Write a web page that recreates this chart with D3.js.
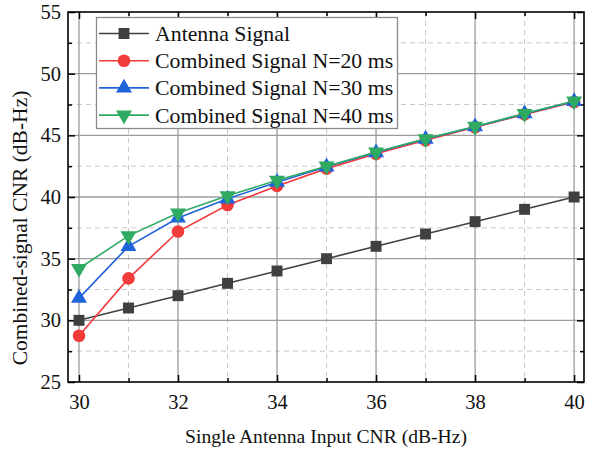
<!DOCTYPE html>
<html><head><meta charset="utf-8">
<script src="https://cdn.jsdelivr.net/npm/d3@7"></script>
<style>body{margin:0;background:#fff}svg{display:block}text{font-family:"Liberation Serif","Times New Roman",serif;fill:#111}</style>
</head><body><svg id="c" width="596" height="450"></svg>
<script>
const xVals = [30,31,32,33,34,35,36,37,38,39,40];
const antenna = [30,31,32,33,34,35,36,37,38,39,40];
const n20 = [28.75,33.4,37.2,39.35,40.9,42.3,43.5,44.6,45.65,46.7,47.7];
const n30 = [31.8,36.0,38.3,39.85,41.2,42.45,43.6,44.7,45.7,46.75,47.75];
const n40 = [34.2,36.85,38.7,40.1,41.35,42.5,43.65,44.72,45.72,46.77,47.78];
const seriesNames = ["Antenna Signal","Combined Signal N=20 ms","Combined Signal N=30 ms","Combined Signal N=40 ms"];
const xTicks = [30,32,34,36,38,40];
const yTicks = [25,30,35,40,45,50,55];

const series = [
 {name:seriesNames[0], vals:antenna, color:"#404040", sym:"square"},
 {name:seriesNames[1], vals:n20, color:"#f23b3b", sym:"circle"},
 {name:seriesNames[2], vals:n30, color:"#1f63d8", sym:"up"},
 {name:seriesNames[3], vals:n40, color:"#2eaa62", sym:"down"}
];

const svg = d3.select("#c");
const L=68,R=584,T=12,B=382;
const x = d3.scaleLinear().domain([29.778,40.2]).range([L,R]);
const y = d3.scaleLinear().domain([25,55]).range([B,T]);

const g = svg.append("g");
const xMinor = d3.range(31,40,2);
const yMinor = d3.range(27.5,55,5);
g.selectAll(".vxm").data(xMinor).join("line").attr("x1",d=>x(d)).attr("x2",d=>x(d)).attr("y1",T).attr("y2",B)
 .attr("stroke","#c8c8c8").attr("stroke-width",1).attr("stroke-dasharray","5,4");
g.selectAll(".hym").data(yMinor).join("line").attr("y1",d=>y(d)).attr("y2",d=>y(d)).attr("x1",L).attr("x2",R)
 .attr("stroke","#c8c8c8").attr("stroke-width",1).attr("stroke-dasharray","5,4");
g.selectAll(".vx").data(xTicks).join("line").attr("x1",d=>x(d)).attr("x2",d=>x(d)).attr("y1",T).attr("y2",B)
 .attr("stroke","#9c9c9c").attr("stroke-width",1.3);
g.selectAll(".hy").data(yTicks.slice(1,-1)).join("line").attr("y1",d=>y(d)).attr("y2",d=>y(d)).attr("x1",L).attr("x2",R)
 .attr("stroke","#9c9c9c").attr("stroke-width",1.3);

const fmt = d3.format("d");
const ax = (axis, tr) => {
  const a = svg.append("g").attr("transform",tr).call(axis);
  a.select(".domain").remove();
  a.selectAll("line").attr("stroke","#000").attr("stroke-width",1.5);
  a.selectAll("text").style("font-family",'"Liberation Serif",serif').style("font-size","20.5px").attr("fill","#111");
  return a;
};
ax(d3.axisBottom(x).tickValues(xTicks).tickSize(-7).tickPadding(12).tickFormat(fmt),`translate(0,${B})`);
ax(d3.axisBottom(x).tickValues(xMinor).tickSize(-4).tickFormat(""),`translate(0,${B})`);
ax(d3.axisTop(x).tickValues(xTicks).tickSize(-7).tickFormat(""),`translate(0,${T})`);
ax(d3.axisTop(x).tickValues(xMinor).tickSize(-4).tickFormat(""),`translate(0,${T})`);
ax(d3.axisLeft(y).tickValues(yTicks).tickSize(-7).tickPadding(7).tickFormat(fmt),`translate(${L},0)`);
ax(d3.axisLeft(y).tickValues(yMinor).tickSize(-4).tickFormat(""),`translate(${L},0)`);
ax(d3.axisRight(y).tickValues(yTicks).tickSize(-7).tickFormat(""),`translate(${R},0)`);
ax(d3.axisRight(y).tickValues(yMinor).tickSize(-4).tickFormat(""),`translate(${R},0)`);

svg.append("rect").attr("x",L).attr("y",T).attr("width",R-L).attr("height",B-T)
 .attr("fill","none").attr("stroke","#000").attr("stroke-width",1.6);

const symPath = s => {
  if(s==="square") return d3.symbol(d3.symbolSquare,120)();
  if(s==="circle") return d3.symbol(d3.symbolCircle,125)();
  return d3.symbol(d3.symbolTriangle,110)();
};
const line = d3.line().x((d,i)=>x(xVals[i])).y(d=>y(d));
series.forEach(s=>{
  svg.append("path").datum(s.vals).attr("d",line).attr("fill","none").attr("stroke",s.color).attr("stroke-width",1.6);
  svg.selectAll(null).data(s.vals).join("path")
   .attr("d",symPath(s.sym))
   .attr("transform",(d,i)=>`translate(${x(xVals[i])},${y(d)})${s.sym==="down"?" rotate(180)":""}`)
   .attr("fill",s.color);
});

const lg = svg.append("g");
lg.append("rect").attr("x",96.5).attr("y",17.5).attr("width",301).attr("height",111)
 .attr("fill","#fff").attr("stroke","#8a8a8a").attr("stroke-width",1.3);
series.forEach((s,i)=>{
  const cy = 33.5 + i*27.2;
  lg.append("line").attr("x1",99).attr("x2",149).attr("y1",cy).attr("y2",cy).attr("stroke",s.color).attr("stroke-width",1.6);
  lg.append("path").attr("d",symPath(s.sym)).attr("fill",s.color)
   .attr("transform",`translate(124,${cy})${s.sym==="down"?" rotate(180)":""}`);
  lg.append("text").attr("x",155).attr("y",cy+7.5).style("font-size","21.8px").text(s.name);
});

svg.append("text").attr("x",(L+R)/2).attr("y",443).attr("text-anchor","middle").style("font-size","19.6px")
 .text("Single Antenna Input CNR (dB-Hz)");
svg.append("text").attr("transform",`translate(27,228) rotate(-90)`).attr("text-anchor","middle").style("font-size","21.5px")
 .text("Combined-signal CNR (dB-Hz)");
</script></body></html>
